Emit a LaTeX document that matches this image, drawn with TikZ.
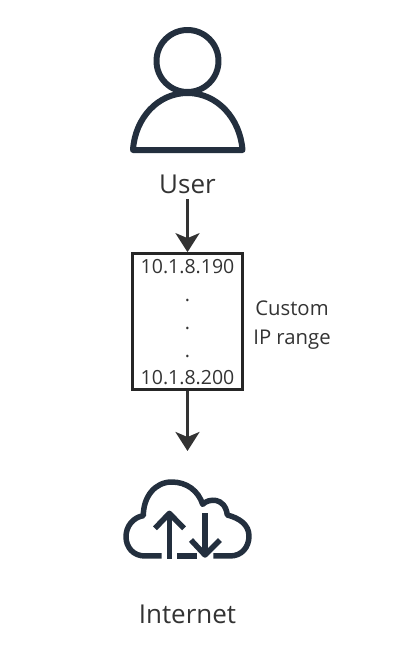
\documentclass[tikz,border=0pt]{standalone}
\usepackage{fontspec}
\setmainfont{Open Sans}
\usetikzlibrary{arrows.meta}
\definecolor{icon}{HTML}{232F3E}
\definecolor{ink}{HTML}{333333}
\tikzset{
  iconline/.style={draw=icon,line width=6pt,line join=round},
  cloudline/.style={draw=icon,line width=5.5pt,line join=round},
  flow/.style={draw=ink,line width=3pt,-{Stealth[length=19pt,width=24pt,inset=5pt]}},
  biglabel/.style={text=ink,font=\fontsize{26}{30}\selectfont,inner sep=0pt,anchor=center},
  iplabel/.style={text=ink,font=\fontsize{19.5}{24}\selectfont,inner sep=0pt,anchor=center},
  sidelabel/.style={text=ink,font=\fontsize{20.3}{29}\selectfont,align=center,inner sep=0pt,anchor=center},
  rangebox/.style={draw=black!85,line width=3.2pt,minimum width=110.5pt,minimum height=135.5pt,inner sep=0pt,anchor=center}
}
\begin{document}
\begin{tikzpicture}[x=1pt,y=-1pt]
\useasboundingbox (0,0) rectangle (410,659);
% user icon
\draw[iconline] (187.5,61) circle[radius=31];
\draw[iconline] (133,150) .. controls (135,118) and (158,93) .. (187.5,93) .. controls (217,93) and (240,118) .. (242.5,150) -- cycle;
\node[biglabel] (user) at (187.5,184) {User};
% range box
\node[rangebox] (range) at (187.5,321.5) {};
\node[iplabel] (ipa) at (187.5,267) {10.1.8.190};
\node[iplabel] (dota) at (187.5,300) {.};
\node[iplabel] (dotb) at (187.5,328) {.};
\node[iplabel] (dotc) at (187.5,356) {.};
\node[iplabel] (ipb) at (187.5,377.5) {10.1.8.200};
\node[sidelabel] (side) at (292,325) {Custom\\IP range};
\coordinate (flowend) at (187.5,451);
\coordinate (userbottom) at (187.5,199);
\coordinate (rangebottom) at (187.5,391);
\draw[flow] (userbottom) -- (range.north);
\draw[flow] (rangebottom) -- (flowend);
% cloud icon
\begin{scope}[shift={(110,470)},x=0.3333pt,y=-0.3333pt]
\draw[cloudline] (155,258) -- (105,258)
  .. controls (70,258) and (48,232) .. (48,200)
  .. controls (48,168) and (70,142) .. (100,137)
  .. controls (100,80) and (135,36) .. (185,36)
  .. controls (230,36) and (265,62) .. (278,103)
  .. controls (295,85) and (345,80) .. (352,135)
  .. controls (390,145) and (417,165) .. (417,198)
  .. controls (417,232) and (395,258) .. (360,258)
  -- (310,258);
\draw[cloudline] (202,258) -- (262,258);
\draw[cloudline] (178,267) -- (178,130);
\draw[cloudline] (135,175) -- (178,130) -- (222,175);
\draw[cloudline] (285,130) -- (285,255);
\draw[cloudline] (243,210) -- (285,255) -- (330,210);
\end{scope}
\node[biglabel] (net) at (187.5,614) {Internet};
\end{tikzpicture}
\end{document}
